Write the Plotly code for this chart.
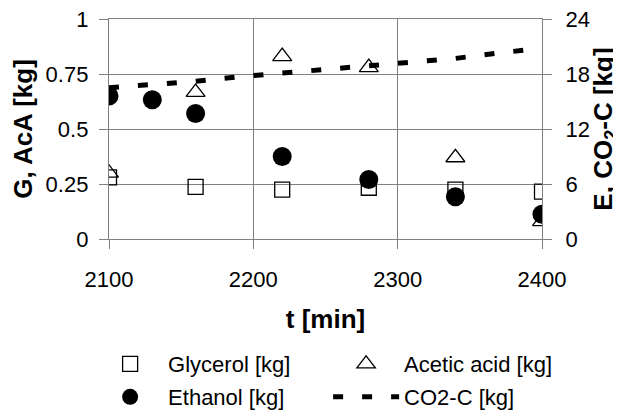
import plotly.graph_objects as go

t_gly = [2100, 2160, 2220, 2280, 2340, 2400]
glycerol = [0.28, 0.237, 0.224, 0.233, 0.224, 0.215]

t_aca = [2100, 2160, 2220, 2280, 2340, 2400]
acetic = [0.30, 0.667, 0.83, 0.78, 0.37, 0.08]

t_eth = [2100, 2130, 2160, 2220, 2280, 2340, 2400]
ethanol = [15.6, 15.2, 13.7, 9.0, 6.5, 4.6, 2.7]

t_co2 = [2100, 2130, 2160, 2190, 2220, 2250, 2280, 2310, 2340, 2370, 2400]
co2 = [16.5, 16.8, 17.2, 17.7, 18.1, 18.5, 18.8, 19.3, 19.7, 20.3, 20.8]

FONT = "Liberation Sans, Arial, sans-serif"
FS = 22

fig = go.Figure()
fig.add_trace(go.Scatter(x=t_gly, y=glycerol, mode="markers", name="Glycerol [kg]",
                         marker=dict(symbol="square-open", size=15, color="black", line=dict(width=1.3)),
                         legend="legend"))
fig.add_trace(go.Scatter(x=t_aca, y=acetic, mode="markers", name="Acetic acid [kg]",
                         marker=dict(symbol="triangle-up-open", size=16.5, color="black", line=dict(width=1.3)),
                         legend="legend"))
fig.add_trace(go.Scatter(x=t_eth, y=ethanol, mode="markers", name="Ethanol [kg]", yaxis="y2",
                         marker=dict(symbol="circle", size=19, color="black"),
                         legend="legend2"))
fig.add_trace(go.Scatter(x=t_co2, y=co2, mode="lines", name="CO2-C [kg]", yaxis="y2",
                         line=dict(color="black", width=5, dash="10px,19px"),
                         legend="legend2"))

# page body has an 8px default margin, so the figure is sized to fit the window
fig.update_layout(
    width=613, height=404,
    margin=dict(l=101, r=79, t=11, b=173, autoexpand=False),
    paper_bgcolor="white", plot_bgcolor="white",
    font=dict(family=FONT, size=FS, color="black"),
    xaxis=dict(range=[2100, 2400], tickvals=[2100, 2200, 2300, 2400],
               showgrid=True, gridcolor="#808080", gridwidth=1,
               showline=True, mirror=True, linecolor="#808080", linewidth=1,
               zeroline=False, automargin=False,
               ticks="outside", ticklen=9, tickcolor="#808080", ticklabelstandoff=12,
               ticklabeloverflow="allow",
               title=dict(text="<b>t [min]</b>", standoff=18)),
    yaxis=dict(range=[0, 1], tickvals=[0, 0.25, 0.5, 0.75, 1],
               ticktext=["0", "0.25", "0.5", "0.75", "1"],
               showgrid=True, gridcolor="#808080", gridwidth=1,
               showline=True, linecolor="#808080", linewidth=1.3, zeroline=False,
               ticks="outside", ticklen=9, tickcolor="#808080", automargin=False,
               ticklabelstandoff=6, ticklabeloverflow="allow",
               title=dict(text="<b>G, AcA [kg]</b>", standoff=14)),
    yaxis2=dict(range=[0, 24], tickvals=[0, 6, 12, 18, 24], overlaying="y", side="right",
                showgrid=False, showline=True, linecolor="#808080", linewidth=1.3, zeroline=False,
                ticks="outside", ticklen=9, tickcolor="#808080", automargin=False,
                ticklabelstandoff=9, ticklabeloverflow="allow",
                title=dict(text="<b>E, CO<sub>2</sub>-C [kg]</b>", standoff=11)),
    legend=dict(orientation="h", x=-0.039, y=-0.473, xanchor="left", yanchor="top",
                entrywidth=155, itemwidth=66, font=dict(size=FS), bgcolor="rgba(0,0,0,0)"),
    legend2=dict(orientation="h", x=-0.039, y=-0.623, xanchor="left", yanchor="top",
                 entrywidth=155, itemwidth=66, font=dict(size=FS), bgcolor="rgba(0,0,0,0)"),
)

fig.write_html("out.html")
